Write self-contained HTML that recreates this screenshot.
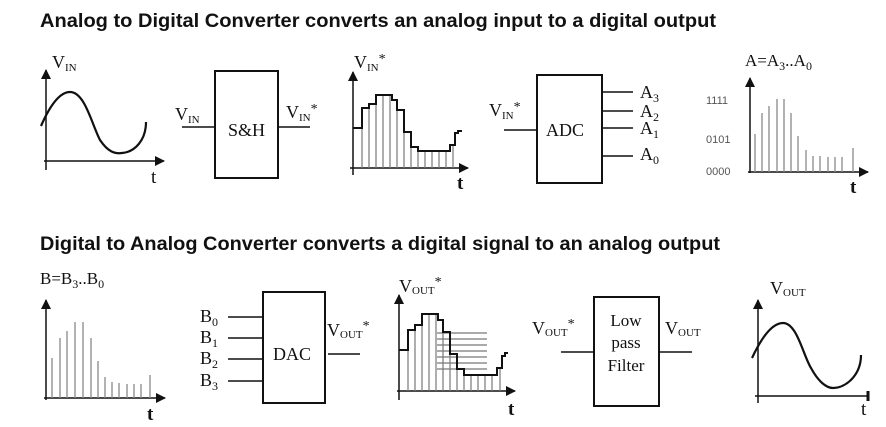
<!DOCTYPE html>
<html><head><meta charset="utf-8"><style>
html,body{margin:0;padding:0;background:#fff;}
svg{display:block}
.s{font-family:"Liberation Serif",serif;fill:#111}
.h{font-family:"Liberation Sans",sans-serif;font-weight:bold;font-size:19px;fill:#111}
</style></head><body>
<svg width="886" height="427" viewBox="0 0 886 427" xmlns="http://www.w3.org/2000/svg">
<defs><marker id="b" markerWidth="10" markerHeight="10" refX="9" refY="5" orient="auto" markerUnits="userSpaceOnUse"><path d="M0,0 L10,5 L0,10z" fill="#111"/></marker></defs>
<text class="h" x="40" y="27" textLength="676" lengthAdjust="spacingAndGlyphs">Analog to Digital Converter converts an analog input to a digital output</text>
<text class="h" x="40" y="250" textLength="680" lengthAdjust="spacingAndGlyphs">Digital to Analog Converter converts a digital signal to an analog output</text>
<g stroke="#111" fill="none" stroke-width="1.5">
<line x1="46" y1="170" x2="46" y2="70" marker-end="url(#b)"/>
<line x1="44" y1="161" x2="164" y2="161" marker-end="url(#b)"/>
<path d="M41,126 C48,110 58,92 70,92 C85,92 92,125 100,140 C108,152 115,154 122,153 C135,152 146,140 146,122" stroke-width="2.2"/>
<rect x="215" y="71" width="63" height="107" stroke-width="2"/>
<line x1="182" y1="127" x2="215" y2="127"/><line x1="278" y1="127" x2="310" y2="127"/>
<line x1="353" y1="175" x2="353" y2="72" marker-end="url(#b)"/>
<line x1="350" y1="168" x2="468" y2="168" marker-end="url(#b)"/>
<g stroke="#777" stroke-width="1.2">
<line x1="362" y1="168" x2="362" y2="128"/><line x1="369" y1="168" x2="369" y2="108"/><line x1="376" y1="168" x2="376" y2="104"/><line x1="383" y1="168" x2="383" y2="95"/><line x1="390" y1="168" x2="390" y2="95"/><line x1="397" y1="168" x2="397" y2="100"/><line x1="404" y1="168" x2="404" y2="110"/><line x1="411" y1="168" x2="411" y2="132"/><line x1="418" y1="168" x2="418" y2="147"/><line x1="425" y1="168" x2="425" y2="151"/><line x1="432" y1="168" x2="432" y2="151"/><line x1="439" y1="168" x2="439" y2="151"/><line x1="446" y1="168" x2="446" y2="151"/><line x1="453" y1="168" x2="453" y2="145"/></g>
<path d="M353,128 H362 V108 H369 V104 H376 V95 H392 V100 H397 V110 H404 V132 H411 V147 H418 V151 H450 V145 H455 V133 H458 V131 H462" stroke-width="2"/>
<rect x="537" y="75" width="65" height="108" stroke-width="2"/>
<line x1="504" y1="130" x2="537" y2="130"/>
<line x1="602" y1="92" x2="633" y2="92"/><line x1="602" y1="111" x2="633" y2="111"/><line x1="602" y1="128" x2="633" y2="128"/><line x1="602" y1="156" x2="633" y2="156"/>
<line x1="750" y1="173" x2="750" y2="78" marker-end="url(#b)"/>
<line x1="748" y1="172" x2="868" y2="172" marker-end="url(#b)"/>
<g stroke="#888" stroke-width="1.3">
<line x1="755" y1="172" x2="755" y2="134"/><line x1="762" y1="172" x2="762" y2="113"/><line x1="769" y1="172" x2="769" y2="106"/><line x1="777" y1="172" x2="777" y2="99"/><line x1="784" y1="172" x2="784" y2="99"/><line x1="791" y1="172" x2="791" y2="113"/><line x1="798" y1="172" x2="798" y2="136"/><line x1="806" y1="172" x2="806" y2="150"/><line x1="813" y1="172" x2="813" y2="156"/><line x1="820" y1="172" x2="820" y2="156"/><line x1="828" y1="172" x2="828" y2="157"/><line x1="835" y1="172" x2="835" y2="157"/><line x1="842" y1="172" x2="842" y2="157"/><line x1="853" y1="172" x2="853" y2="148"/></g>
<line x1="46" y1="400" x2="46" y2="300" marker-end="url(#b)"/>
<line x1="44" y1="398" x2="165" y2="398" marker-end="url(#b)"/>
<g stroke="#888" stroke-width="1.3">
<line x1="52" y1="398" x2="52" y2="358"/><line x1="60" y1="398" x2="60" y2="338"/><line x1="67" y1="398" x2="67" y2="331"/><line x1="75" y1="398" x2="75" y2="322"/><line x1="83" y1="398" x2="83" y2="322"/><line x1="91" y1="398" x2="91" y2="338"/><line x1="98" y1="398" x2="98" y2="361"/><line x1="105" y1="398" x2="105" y2="377"/><line x1="112" y1="398" x2="112" y2="382"/><line x1="119" y1="398" x2="119" y2="383"/><line x1="127" y1="398" x2="127" y2="384"/><line x1="134" y1="398" x2="134" y2="384"/><line x1="141" y1="398" x2="141" y2="384"/><line x1="150" y1="398" x2="150" y2="375"/></g>
<rect x="263" y="292" width="62" height="111" stroke-width="2"/>
<line x1="228" y1="317" x2="263" y2="317"/><line x1="228" y1="338" x2="263" y2="338"/><line x1="228" y1="359" x2="263" y2="359"/><line x1="228" y1="381" x2="263" y2="381"/>
<line x1="328" y1="354" x2="360" y2="354"/>
<line x1="399" y1="400" x2="399" y2="295" marker-end="url(#b)"/>
<line x1="397" y1="391" x2="515" y2="391" marker-end="url(#b)"/>
<g stroke="#777" stroke-width="1.2">
<line x1="408" y1="391" x2="408" y2="350"/><line x1="415" y1="391" x2="415" y2="330"/><line x1="422" y1="391" x2="422" y2="325"/><line x1="429" y1="391" x2="429" y2="314"/><line x1="436" y1="391" x2="436" y2="314"/><line x1="443" y1="391" x2="443" y2="320"/><line x1="450" y1="391" x2="450" y2="332"/><line x1="457" y1="391" x2="457" y2="354"/><line x1="464" y1="391" x2="464" y2="369"/><line x1="471" y1="391" x2="471" y2="375"/><line x1="478" y1="391" x2="478" y2="375"/><line x1="485" y1="391" x2="485" y2="375"/><line x1="492" y1="391" x2="492" y2="375"/><line x1="500" y1="391" x2="500" y2="368"/>
<line x1="437" y1="333" x2="487" y2="333"/><line x1="437" y1="339" x2="487" y2="339"/><line x1="437" y1="345" x2="487" y2="345"/><line x1="437" y1="351" x2="487" y2="351"/><line x1="437" y1="357" x2="487" y2="357"/><line x1="437" y1="363" x2="487" y2="363"/><line x1="437" y1="369" x2="487" y2="369"/></g>
<path d="M399,350 H408 V330 H415 V325 H422 V314 H438 V320 H443 V332 H450 V354 H457 V369 H464 V375 H497 V368 H502 V356 H505 V353 H508" stroke-width="2"/>
<rect x="594" y="297" width="65" height="109" stroke-width="2"/>
<line x1="561" y1="352" x2="594" y2="352"/><line x1="659" y1="352" x2="692" y2="352"/>
<line x1="758" y1="403" x2="758" y2="300" marker-end="url(#b)"/>
<line x1="755" y1="396" x2="868" y2="396"/>
<line x1="868" y1="391" x2="868" y2="401" stroke-width="3"/>
<path d="M752,358 C759,343 770,323 783,323 C797,323 803,355 811,368 C818,381 826,388 833,388 C846,388 861,375 861,355" stroke-width="2.2"/>
</g>
<g class="s">
<text x="52" y="68" font-size="18">V<tspan font-size="11" dy="3">IN</tspan></text>
<text x="151" y="183" font-size="19">t</text>
<text x="175" y="120" font-size="18">V<tspan font-size="11" dy="3">IN</tspan></text>
<text x="228" y="136" font-size="18">S&amp;H</text>
<text x="286" y="118" font-size="18">V<tspan font-size="11" dy="3">IN</tspan><tspan dy="-8" font-size="14">*</tspan></text>
<text x="354" y="68" font-size="18">V<tspan font-size="11" dy="3">IN</tspan><tspan dy="-8" font-size="14">*</tspan></text>
<text x="457" y="189" font-size="19" font-weight="bold">t</text>
<text x="489" y="116" font-size="18">V<tspan font-size="11" dy="3">IN</tspan><tspan dy="-8" font-size="14">*</tspan></text>
<text x="546" y="136" font-size="18">ADC</text>
<text x="640" y="98" font-size="18">A<tspan font-size="12" dy="4">3</tspan></text>
<text x="640" y="117" font-size="18">A<tspan font-size="12" dy="4">2</tspan></text>
<text x="640" y="134" font-size="18">A<tspan font-size="12" dy="4">1</tspan></text>
<text x="640" y="160" font-size="18">A<tspan font-size="12" dy="4">0</tspan></text>
<text x="745" y="66" font-size="17">A=A<tspan font-size="12" dy="4">3</tspan><tspan dy="-4">..A</tspan><tspan font-size="12" dy="4">0</tspan></text>
<text x="850" y="193" font-size="19" font-weight="bold">t</text>
<text x="40" y="284" font-size="17">B=B<tspan font-size="12" dy="4">3</tspan><tspan dy="-4">..B</tspan><tspan font-size="12" dy="4">0</tspan></text>
<text x="147" y="420" font-size="19" font-weight="bold">t</text>
<text x="200" y="322" font-size="18">B<tspan font-size="12" dy="4">0</tspan></text>
<text x="200" y="343" font-size="18">B<tspan font-size="12" dy="4">1</tspan></text>
<text x="200" y="364" font-size="18">B<tspan font-size="12" dy="4">2</tspan></text>
<text x="200" y="386" font-size="18">B<tspan font-size="12" dy="4">3</tspan></text>
<text x="273" y="360" font-size="18">DAC</text>
<text x="327" y="336" font-size="18">V<tspan font-size="11" dy="2">OUT</tspan><tspan dy="-8" font-size="14">*</tspan></text>
<text x="399" y="292" font-size="18">V<tspan font-size="11" dy="2">OUT</tspan><tspan dy="-8" font-size="14">*</tspan></text>
<text x="508" y="415" font-size="19" font-weight="bold">t</text>
<text x="532" y="334" font-size="18">V<tspan font-size="11" dy="2">OUT</tspan><tspan dy="-8" font-size="14">*</tspan></text>
<text x="626" y="326" font-size="17" text-anchor="middle">Low</text>
<text x="626" y="348" font-size="17" text-anchor="middle">pass</text>
<text x="626" y="371" font-size="17" text-anchor="middle">Filter</text>
<text x="665" y="334" font-size="18">V<tspan font-size="11" dy="2">OUT</tspan></text>
<text x="770" y="294" font-size="18">V<tspan font-size="11" dy="2">OUT</tspan></text>
<text x="861" y="415" font-size="19">t</text>
</g>
<g font-family="Liberation Sans,sans-serif" font-size="11" fill="#555">
<text x="706" y="104">1111</text><text x="706" y="143">0101</text><text x="706" y="175">0000</text>
</g>
</svg>
</body></html>
